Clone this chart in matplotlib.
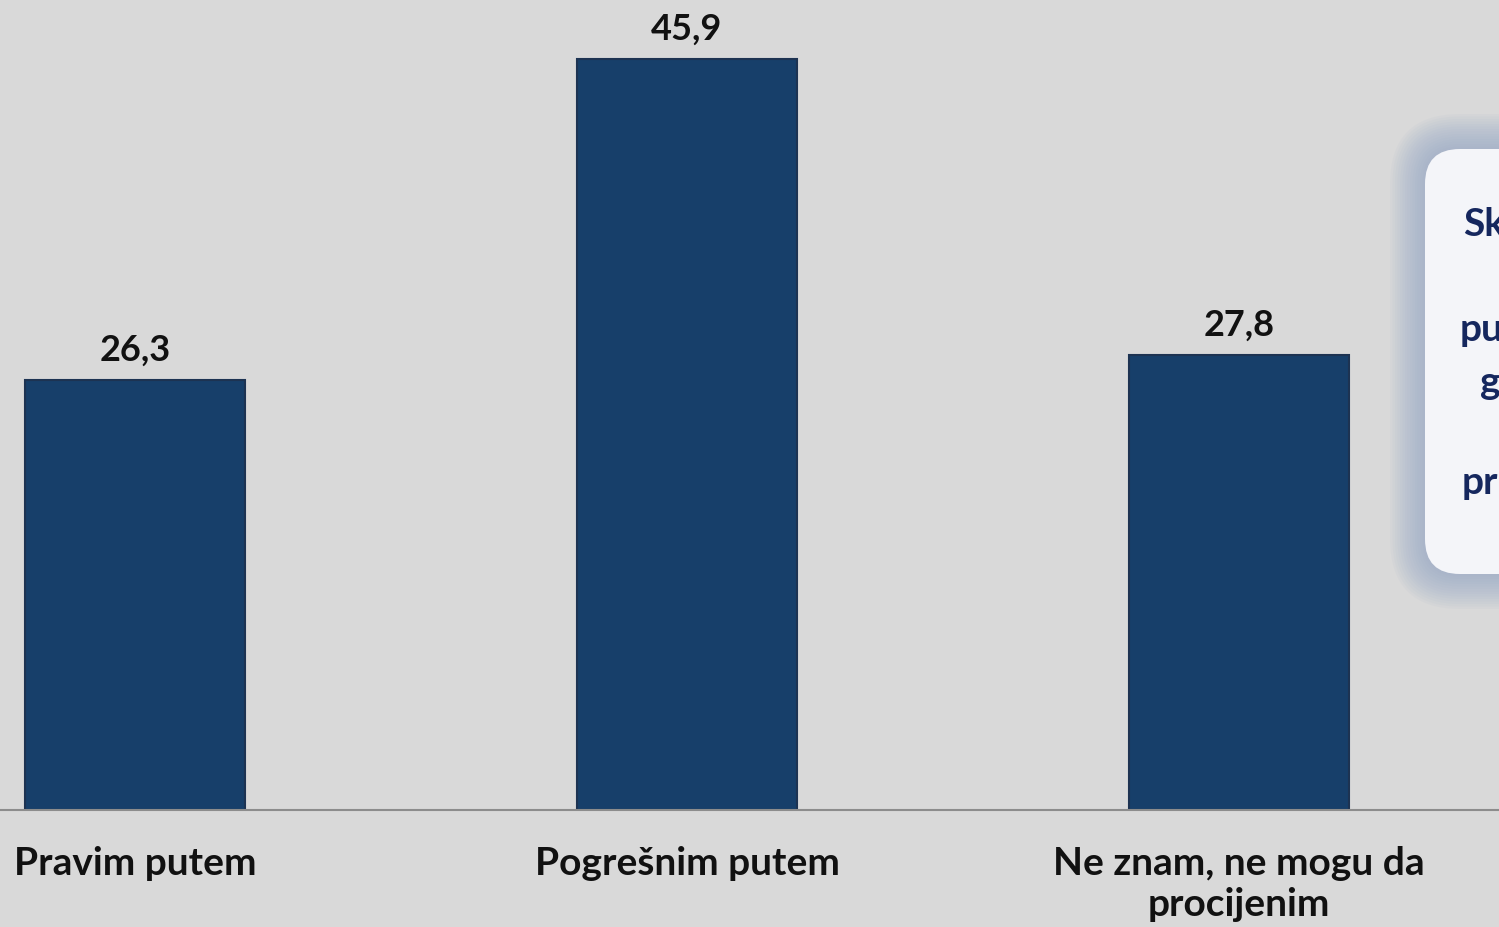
import matplotlib.pyplot as plt
from matplotlib.patches import FancyBboxPatch

# Podaci
kategorije = ["Pravim putem", "Pogrešnim putem", "Ne znam, ne mogu da\nprocijenim"]
vrijednosti = [26.3, 45.9, 27.8]
oznake = ["26,3", "45,9", "27,8"]
# vidljivi djelovi teksta u okviru (odsječen desnom ivicom)
okvir_tekst = ["Sk", "pu", "g", "pr"]

POZADINA = "#d9d9d9"
BOJA_STUPCA = "#173f6a"
FONT = ["Lato", "DejaVu Sans"]

fig = plt.figure(figsize=(14.99, 9.28), dpi=100)
fig.patch.set_facecolor(POZADINA)

ax = fig.add_axes([0, (928 - 811) / 928, 1, 811 / 928])
ax.set_facecolor(POZADINA)
x = range(len(kategorije))
ax.bar(x, vrijednosti, width=0.4, color=BOJA_STUPCA, edgecolor="#1d3352", linewidth=1.5, zorder=2)
for xi, v, t in zip(x, vrijednosti, oznake):
    ax.text(xi, v + 0.9, t, ha="center", va="bottom", fontsize=26, fontweight="bold",
            family=FONT, color="#111111")

ax.set_xlim(-0.2446, 2.471)
ax.set_ylim(0, 49.6)
for s in ["top", "right", "left"]:
    ax.spines[s].set_visible(False)
ax.spines["bottom"].set_color("#8c8c8c")
ax.spines["bottom"].set_linewidth(1.5)
ax.set_yticks([])
ax.set_xticks(list(x))
ax.set_xticklabels(kategorije, fontsize=28, fontweight="bold", family=FONT, color="#111111",
                   linespacing=1.2)
ax.tick_params(axis="x", length=0, pad=25)

# Okvir s tekstom desno (u pikselima)
ov = fig.add_axes([0, 0, 1, 1])
ov.set_xlim(0, 1499)
ov.set_ylim(928, 0)
ov.axis("off")
for i in range(14, 0, -1):
    ov.add_patch(FancyBboxPatch((1425 - 2.5 * i, 150 - 2.5 * i), 400 + 5 * i, 425 + 5 * i,
                                boxstyle="round,pad=0,rounding_size=%d" % (35 + 2.5 * i),
                                facecolor="#8ea3c4", edgecolor="none", alpha=0.06, zorder=1))
ov.add_patch(FancyBboxPatch((1425, 150), 400, 425, boxstyle="round,pad=0,rounding_size=35",
                            facecolor="#f4f5f9", edgecolor="none", zorder=2))
for t, (px, py) in zip(okvir_tekst, [(1463, 225), (1460, 330), (1480, 383), (1462, 483)]):
    ov.text(px, py, t, ha="left", va="center", fontsize=28, fontweight="bold",
            family=FONT, color="#15275e", zorder=3)

fig.savefig("out.png", dpi=100, facecolor=POZADINA)
